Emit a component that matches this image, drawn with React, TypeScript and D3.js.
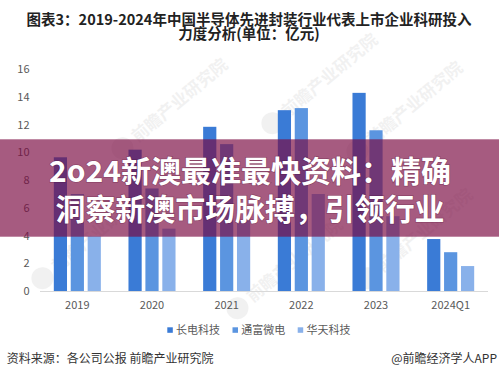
import React from "react";
import * as d3 from "d3";

const categories = ["2019", "2020", "2021", "2022", "2023", "2024Q1"];
const seriesNames = ["长电科技", "通富微电", "华天科技"];
const changdian = [9.65, 10.2, 11.85, 13.05, 14.3, 3.75];
const tongfu = [7.0, 7.4, 10.6, 13.2, 11.6, 2.8];
const huatian = [3.95, 4.5, 5.1, 7.0, 5.4, 1.8];
const yTicks = [0, 2, 4, 6, 8, 10, 12, 14, 16];
const seriesColors = ["#3a7bd6", "#5b95e0", "#89b1ea"];

const titleLines = ["图表3：2019-2024年中国半导体先进封装行业代表上市企业科研投入", "力度分析(单位：亿元)"];
const bannerLines = ["2o24新澳最准最快资料：精确", "洞察新澳市场脉搏，引领行业"];
const sourceText = "资料来源：各公司公报 前瞻产业研究院";
const brandText = "@前瞻经济学人APP";
const watermark = "前瞻产业研究院";

const W = 499;
const H = 377;
const FONT = "'Microsoft YaHei', 'Noto Sans CJK SC', 'Noto Sans', sans-serif";

export default function App() {
  const values = [changdian, tongfu, huatian];
  const x0 = d3.scaleBand<string>().domain(categories).range([40, 488]).paddingInner(0.37).paddingOuter(0.185);
  const x1 = d3.scaleBand<string>().domain(seriesNames).range([0, x0.bandwidth()]).paddingInner(0.22);
  const y = d3.scaleLinear().domain([0, 16]).range([291, 69.3]);

  const wms = [
    { x: 150, y: 125 },
    { x: 300, y: 100 },
    { x: 385, y: 128 },
    { x: 70, y: 255 },
    { x: 265, y: 285 },
    { x: 395, y: 255 },
  ];

  return (
    <svg width={W} height={H} style={{ position: "absolute", left: 0, top: 0, background: "#fff" }} fontFamily={FONT}>
      <rect x={0} y={0} width={W} height={H} fill="#fff" />
      {/* watermarks */}
      {wms.map((p, i) => (
        <g key={"wm" + i} transform={`translate(${p.x},${p.y}) rotate(-40)`} opacity={0.05}>
          <circle cx={-36} cy={0} r={11} fill="#000" />
          <text x={-21} y={6} fontSize={17} fontWeight="bold" fill="#000">{watermark}</text>
        </g>
      ))}
      {/* title */}
      {titleLines.map((t, i) => (
        <text key={"t" + i} x={249} y={24.5 + i * 14.5} textAnchor="middle" fontSize={14.5} fontWeight="bold" fill="#222">
          {t}
        </text>
      ))}
      {/* y ticks */}
      {yTicks.map((v) => (
        <text key={"y" + v} x={29.5} y={y(v) + 4} textAnchor="end" fontSize={11} fill="#595959">
          {v}
        </text>
      ))}
      {/* bars */}
      {categories.map((c, ci) => (
        <g key={c} transform={`translate(${x0(c)},0)`}>
          {seriesNames.map((s, si) => (
            <rect
              key={s}
              x={x1(s)}
              y={y(values[si][ci])}
              width={x1.bandwidth()}
              height={y(0) - y(values[si][ci])}
              fill={seriesColors[si]}
            />
          ))}
        </g>
      ))}
      <line x1={40} x2={488} y1={y(0) + 0.5} y2={y(0) + 0.5} stroke="#d9d9d9" strokeWidth={1} />
      {/* x labels */}
      {categories.map((c) => (
        <text key={"x" + c} x={(x0(c) as number) + x0.bandwidth() / 2} y={308.5} textAnchor="middle" fontSize={11} fill="#595959">
          {c}
        </text>
      ))}
      {/* legend */}
      {seriesNames.map((s, i) => {
        const lx = 167.3 + i * 65.2;
        return (
          <g key={"lg" + s}>
            <rect x={lx} y={327.3} width={5.5} height={5.5} fill={seriesColors[i]} />
            <text x={lx + 8.7} y={334} fontSize={11} fill="#595959">{s}</text>
          </g>
        );
      })}
      {/* footer */}
      <text x={6.7} y={362.5} fontSize={12} fill="#333">{sourceText}</text>
      <text x={497} y={362.5} textAnchor="end" fontSize={12} fill="#333">{brandText}</text>
      {/* overlay banner */}
      <rect x={0} y={139.3} width={W} height={97.4} fill="rgba(122,10,66,0.67)" />
      {bannerLines.map((t, i) => (
        <text
          key={"b" + i}
          x={250}
          y={182 + i * 37.6}
          textAnchor="middle"
          fontSize={29.5}
          fontWeight="bold"
          fill="#fff"
          textLength={i === 0 ? 402 : 389}
          lengthAdjust="spacingAndGlyphs"
          style={{ paintOrder: "stroke" }}
          stroke="rgba(60,0,30,0.25)"
          strokeWidth={1.5}
        >
          {t}
        </text>
      ))}
    </svg>
  );
}
